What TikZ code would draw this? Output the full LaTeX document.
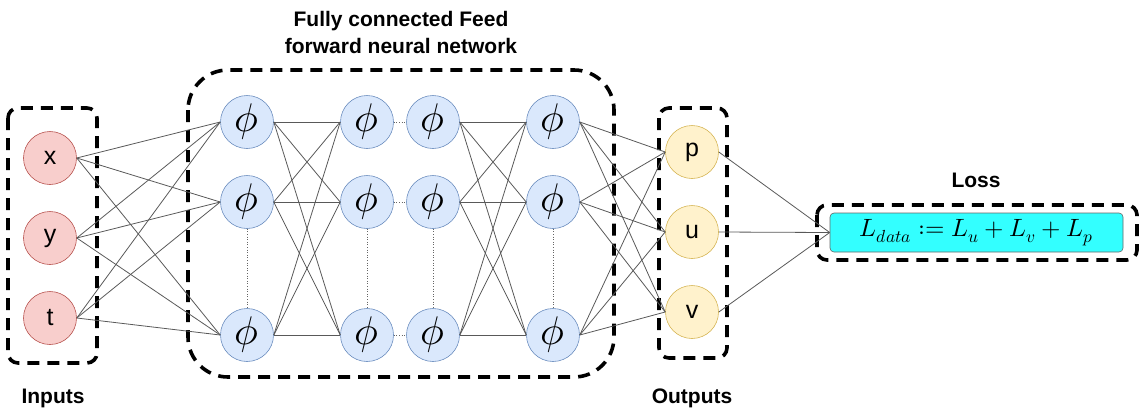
\documentclass[tikz,border=0pt]{standalone}
\usepackage{fontspec}
\setmainfont{Liberation Sans}
\usepackage{unicode-math}
\setmathfont{Latin Modern Math}
\begin{document}
\begin{tikzpicture}[x=1pt,y=-1pt,
  neuron/.style={circle,minimum size=53pt,inner sep=0pt,line width=0.6pt},
  innode/.style={neuron,draw={rgb,255:red,184;green,84;blue,80},fill={rgb,255:red,248;green,206;blue,204},font=\fontsize{25}{25}\selectfont},
  hidnode/.style={neuron,draw={rgb,255:red,108;green,142;blue,191},fill={rgb,255:red,218;green,232;blue,252},font=\fontsize{40}{40}\selectfont},
  outnode/.style={neuron,draw={rgb,255:red,214;green,182;blue,86},fill={rgb,255:red,255;green,242;blue,204},font=\fontsize{25}{25}\selectfont},
  group/.style={draw=black,line width=3.6pt,dash pattern=on 12pt off 8pt},
  link/.style={draw=black!65,line width=0.8pt},
  skip/.style={draw=black!60,line width=0.6pt,dotted},
  caption/.style={font=\fontsize{21}{27}\selectfont\bfseries,align=center}]
\useasboundingbox (0,0) rectangle (1147,410);

% grouping frames
\draw[group,rounded corners=10pt] (8,108) rectangle (97,363);
\draw[group,rounded corners=40pt] (188,70) rectangle (614,377);
\draw[group,rounded corners=10pt] (659,108) rectangle (727,358);
\draw[group,rounded corners=10pt] (817,205) rectangle (1137,260);

% inputs
\node[innode] (x) at (50,158) {x};
\node[innode] (y) at (50,238) {y};
\node[innode] (t) at (50,318) {t};

% hidden layers
\foreach \c/\xx in {1/247,2/367,3/433,4/553}{
  \foreach \r/\yy in {1/122,2/202,3/335}{
    \node[hidnode] (h\c\r) at (\xx,\yy) {$\phi$};
  }
}

% outputs
\node[outnode] (p) at (692,152) {p};
\node[outnode] (u) at (692,232) {u};
\node[outnode] (v) at (692,312) {v};

% loss
\node[draw=black!60,line width=0.6pt,fill={rgb,255:red,51;green,255;blue,255},rounded corners=4pt,
  minimum width=293pt,minimum height=39pt,inner sep=0pt,font=\fontsize{25}{25}\selectfont]
  (loss) at (976.5,232.5) {$L_{data} := L_u + L_v + L_p$};

% connections
\foreach \a in {x,y,t}{
  \foreach \b in {h11,h12,h13}{ \draw[link] (\a.east) -- (\b.west); }
}
\foreach \r in {1,2,3}{
  \foreach \s in {1,2,3}{
    \draw[link] (h1\r.east) -- (h2\s.west);
    \draw[link] (h3\r.east) -- (h4\s.west);
  }
  \draw[skip] (h2\r.east) -- (h3\r.west);
}
\foreach \r in {1,2,3}{
  \foreach \b in {p,u,v}{ \draw[link] (h4\r.east) -- (\b.west); }
}
\foreach \c in {1,2,3,4}{ \draw[skip] (h\c2.south) -- (h\c3.north); }
\foreach \b in {p,u,v}{ \draw[link] (\b.east) -- (loss.west); }

% captions
\node[caption] (title) at (401,32) {Fully connected Feed\\forward neural network};
\node[caption] (losscap) at (976,180) {Loss};
\node[caption] (incap) at (53,398) {Inputs};
\node[caption] (outcap) at (692,398) {Outputs};
\end{tikzpicture}
\end{document}
